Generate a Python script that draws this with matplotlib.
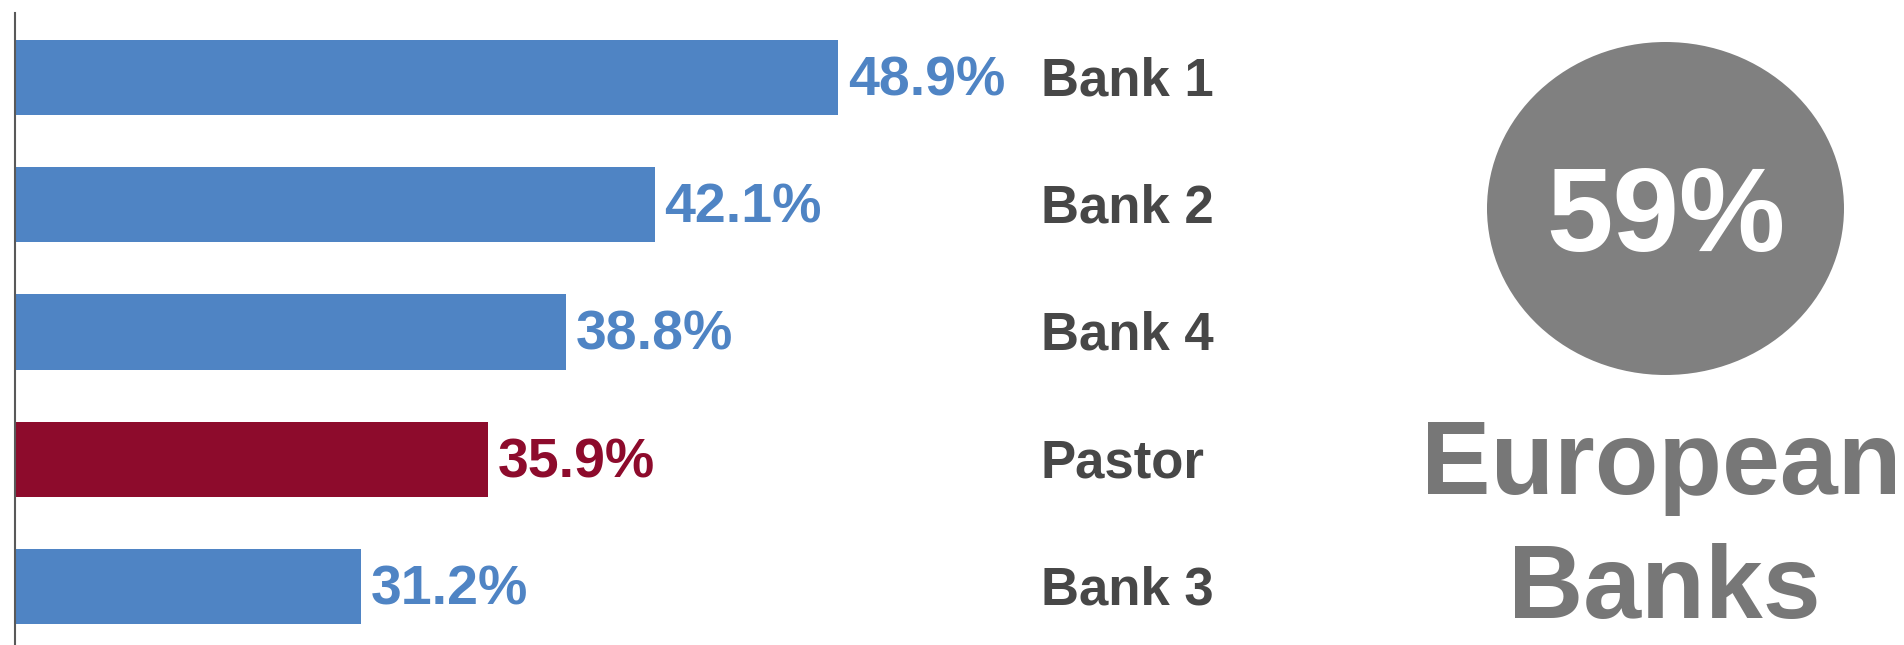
import matplotlib.pyplot as plt
from matplotlib.patches import Ellipse

banks = ["Bank 1", "Bank 2", "Bank 4", "Pastor", "Bank 3"]
shares = [48.9, 42.1, 38.8, 35.9, 31.2]
highlight = "Pastor"
headline_value = "59%"
headline_text = ["European", "Banks"]

blue = "#4F84C4"
red = "#8D0B2C"
dark = "#474747"
grey = "#808080"
FONT = "Liberation Sans"

fig = plt.figure(figsize=(19.04, 6.45), dpi=100)

# bar panel, left part of the figure
W, H = 1904, 645
ax = fig.add_axes([14.6 / W, 0, (1041 - 14.6) / W, (645 - 13) / H])
colors = [red if b == highlight else blue for b in banks]
ypos = range(len(banks))
ax.barh(ypos, shares, height=0.59, color=colors, left=0)
ax.set_xlim(18.36, 18.36 + (1041 - 14.6) / 26.97)
ax.set_ylim(4.46, -0.507)

for y, v, c, name in zip(ypos, shares, colors, banks):
    ax.annotate(f"{v:.1f}%", (v, y + 0.14), xytext=(7, 0),
                textcoords="offset points", color=c, fontsize=40,
                fontweight="bold", family=FONT, va="baseline", ha="left")
    ax.text(1.0, y + 0.14, name, color=dark, fontsize=38, fontweight="bold",
            family=FONT, va="baseline", ha="left",
            transform=ax.get_yaxis_transform())

for s in ["top", "right", "bottom"]:
    ax.spines[s].set_visible(False)
ax.spines["left"].set_color("#595959")
ax.spines["left"].set_linewidth(1.5)
ax.set_xticks([])
ax.set_yticks([])
ax.patch.set_alpha(0)

# headline badge on the right
side = fig.add_axes([0, 0, 1, 1])
side.set_xlim(0, W)
side.set_ylim(H, 0)
side.axis("off")
side.patch.set_alpha(0)
side.add_patch(Ellipse((1665.5, 208.5), 357, 333, color=grey, lw=0))
side.text(1666, 251, headline_value, color="white", fontsize=86,
          fontweight="bold", family=FONT, ha="center", va="baseline")
side.text(1661, 494, headline_text[0], color="#777777", fontsize=75,
          fontweight="bold", family=FONT, ha="center", va="baseline")
side.text(1664, 618, headline_text[1], color="#777777", fontsize=75,
          fontweight="bold", family=FONT, ha="center", va="baseline")

fig.savefig("out.png", dpi=100, facecolor="white")
